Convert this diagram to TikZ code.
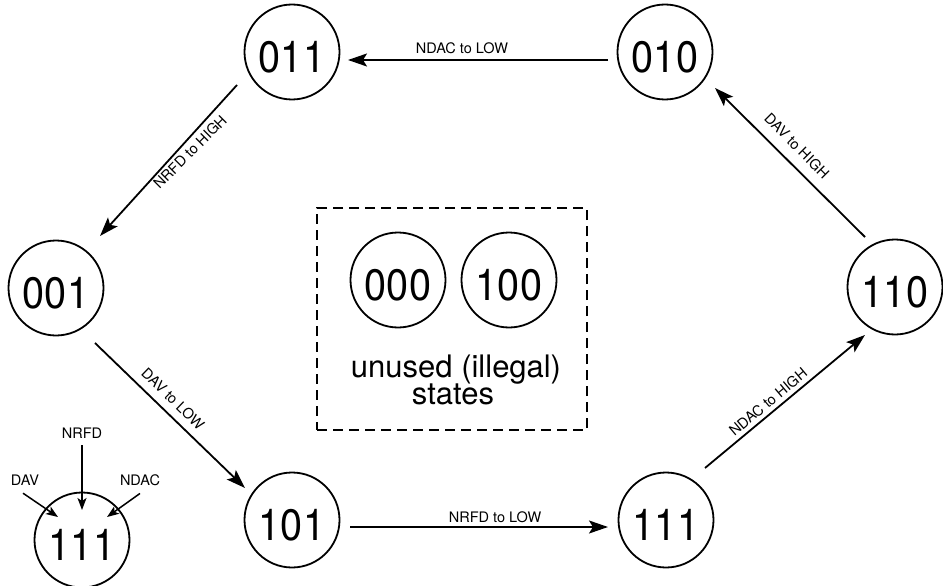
\documentclass[tikz,border=0pt]{standalone}
\usepackage{fontspec}
\setmainfont{TeX Gyre Heros}
\newfontfamily\statefont[FakeStretch=0.9]{TeX Gyre Heros}
\usetikzlibrary{arrows.meta,calc}
\begin{document}
\begin{tikzpicture}[x=1pt,y=-1pt, line width=1.8pt,
  state/.style={draw, circle, minimum size=95pt, inner sep=0pt,
    font=\statefont\fontsize{44}{44}\selectfont, text height=41pt, text depth=0pt},
  arr/.style={-{Stealth[length=19pt,width=13pt,inset=4pt]}},
  smallarr/.style={-{Stealth[length=12pt,width=9pt,inset=3pt]}, line width=1.5pt},
  lbl/.style={font=\fontsize{14.5}{14.5}\selectfont, inner sep=0pt},
  dashbox/.style={draw, dash pattern=on 10pt off 6pt, line width=1.5pt,
    minimum width=270pt, minimum height=222pt, inner sep=0pt},
  bigtext/.style={font=\fontsize{31}{31}\selectfont, inner sep=0pt, anchor=base}]
\useasboundingbox (0,0) rectangle (943,586);

% states
\node[state] (s011) at (292,52) {011};
\node[state] (s010) at (665,52) {010};
\node[state] (s001) at (56,288) {001};
\node[state] (s110) at (895,287) {110};
\node[state] (s101) at (292,520) {101};
\node[state] (s111) at (666,520) {111};

% transitions
\draw[arr] ($(s010)+(-57,8)$) -- ($(s011)+(56,8)$);
\draw[arr] ($(s011)+(-55,33)$) -- ($(s001)+(44,-52)$);
\draw[arr] ($(s001)+(39,55)$) -- ($(s101)+(-47,-32)$);
\draw[arr] ($(s101)+(58,7)$) -- ($(s111)+(-58,7)$);
\draw[arr] ($(s111)+(39,-52)$) -- ($(s110)+(-30,48)$);
\draw[arr] ($(s110)+(-30,-50)$) -- ($(s010)+(50,36)$);

% transition labels
\node[lbl] (l1) at (462,48) {NDAC to LOW};
\node[lbl, rotate=45] (l2) at (190,152) {NRFD to HIGH};
\node[lbl, rotate=-44] (l3) at (173,399) {DAV to LOW};
\node[lbl] (l4) at (495,517) {NRFD to LOW};
\node[lbl, rotate=40] (l5) at (768,402) {NDAC to HIGH};
\node[lbl, rotate=-45] (l6) at (797,146) {DAV to HIGH};

% unused states
\node[dashbox] (box) at (452,319) {};
\node[state] (s000) at (398,280) {000};
\node[state] (s100) at (509,280) {100};
\node[bigtext] (t1) at (456,377) {unused (illegal)};
\node[bigtext] (t2) at (453,404) {states};

% legend
\node[state] (L111) at (82,540) {111};
\node[lbl] (lNRFD) at (82,433) {NRFD};
\node[lbl] (lDAV) at (25,480) {DAV};
\node[lbl] (lNDAC) at (140,480) {NDAC};
\draw[smallarr] ($(lNRFD.south)+(0,6)$) -- ($(L111)+(0,-30)$);
\draw[smallarr] ($(lDAV.south)+(-2,7)$) -- ($(L111)+(-24,-23)$);
\draw[smallarr] ($(lNDAC.south)+(0,7)$) -- ($(L111)+(25,-23)$);
\end{tikzpicture}
\end{document}
